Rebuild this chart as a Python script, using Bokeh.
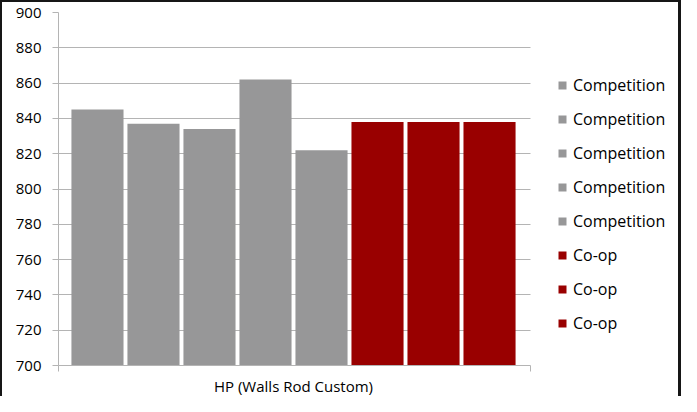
from bokeh.plotting import figure
from bokeh.models import Range1d, Legend, LegendItem, ColumnDataSource, FixedTicker
from bokeh.embed import file_html
from bokeh.resources import INLINE

category = ["HP (Walls Rod Custom)"]
series_names = ["Competition", "Competition", "Competition", "Competition", "Competition",
                "Co-op", "Co-op", "Co-op"]
series_values = [845, 837, 834, 862, 822, 838, 838, 838]
series_colors = ["#979798"] * 5 + ["#990000"] * 3
y_ticks = [700, 720, 740, 760, 780, 800, 820, 840, 860, 880, 900]

FONT = "Open Sans"
GRID = "#b4b4b4"

n = len(series_values)
x_lo, x_hi = -0.696, (n - 1) + 0.732   # extent of the plotting area around the bars
bw = 0.93

p = figure(x_range=Range1d(x_lo, 10.41), y_range=Range1d(700, 900),
           width=681, height=396, output_backend="svg", toolbar_location=None,
           min_border_left=56, min_border_right=3, min_border_top=10, min_border_bottom=30)
p.styles = {"border-left": "2px solid #161616", "border-right": "3px solid #161616",
            "border-top": "2px solid #161616", "box-sizing": "border-box"}

items = []
for i, (name, val, col) in enumerate(zip(series_names, series_values, series_colors)):
    src = ColumnDataSource(dict(x=[i], top=[val]))
    r = p.vbar(x="x", top="top", bottom=700, width=bw, source=src,
               fill_color=col, line_color=None)
    items.append(LegendItem(label=name, renderers=[r]))

legend = Legend(items=items, location=(499, 31), padding=0, margin=0, spacing=12,
                label_height=21, glyph_width=10, glyph_height=10, label_standoff=6,
                border_line_color=None, background_fill_alpha=0,
                label_text_font=FONT, label_text_font_size="16px", label_text_color="#000000")
p.add_layout(legend)

p.outline_line_color = None
p.xgrid.grid_line_color = None
p.ygrid.grid_line_color = GRID
p.ygrid.ticker = y_ticks
p.ygrid.cross_bounds = (x_lo, x_hi)

p.yaxis.ticker = y_ticks
p.yaxis.axis_line_color = GRID
p.yaxis.major_tick_line_color = GRID
p.yaxis.major_tick_out = 6
p.yaxis.major_tick_in = 0
p.yaxis.minor_tick_line_color = None
p.yaxis.major_label_standoff = 11
p.yaxis.major_label_text_font = FONT
p.yaxis.major_label_text_font_size = "15px"
p.yaxis.major_label_text_color = "#000000"

center = (n - 1) / 2
p.xaxis.ticker = FixedTicker(ticks=[center], minor_ticks=[x_lo, x_hi])
p.xaxis.major_label_overrides = {center: category[0]}
p.xaxis.bounds = (x_lo, x_hi)
p.xaxis.axis_line_color = GRID
p.xaxis.major_tick_line_color = None
p.xaxis.minor_tick_line_color = GRID
p.xaxis.minor_tick_out = 6
p.xaxis.minor_tick_in = 0
p.xaxis.major_label_standoff = 4
p.xaxis.major_label_text_font = FONT
p.xaxis.major_label_text_font_size = "15px"
p.xaxis.major_label_text_color = "#000000"

open("out.html", "w").write(file_html(p, INLINE))
